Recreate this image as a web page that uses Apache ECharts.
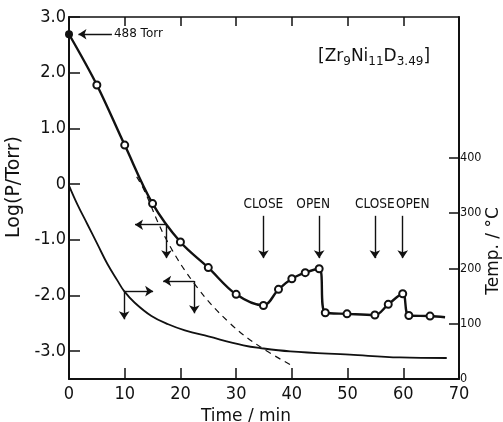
<!DOCTYPE html>
<html>
<head>
<meta charset="utf-8">
<script src="https://cdn.jsdelivr.net/npm/echarts@6/dist/echarts.min.js"></script>
<style>
  html, body { margin: 0; padding: 0; background: #fff; }
  #chart { width: 503px; height: 422px; }
</style>
</head>
<body>
<div id="chart"></div>
<script>
// pressure curve, open circles (first point = 488 Torr, last = line end)
const timeMin = [0, 5, 10, 15, 20, 25, 30, 34.9, 37.6, 40, 42.4, 44.9, 46, 49.9, 54.9, 57.3, 59.9, 61, 64.8, 67.5];
const logP = [2.69, 1.78, 0.70, -0.35, -1.04, -1.50, -1.98, -2.18, -1.89, -1.70, -1.59, -1.52, -2.31, -2.33, -2.35, -2.16, -1.97, -2.36, -2.37, -2.39];

// dashed extrapolation
const dashTime = [12.15, 13.3, 17.5, 22.9, 28.9, 34.3, 40.4];
const dashLogP = [0.13, -0.07, -1.00, -1.84, -2.50, -2.92, -3.28];

// sample temperature (right axis)
const tempTime = [0, 1.5, 3.3, 5.1, 6.9, 8.7, 9.9, 11.8, 14.8, 17.8, 20.8, 25, 31.3, 34.3, 39.7, 50.4, 59.4, 67.8];
const tempC = [350, 316, 280, 244, 208, 178, 159, 138, 114, 99, 88, 77, 61, 56, 50, 44, 39, 38];

// valve events
const valveTime = [34.9, 44.9, 54.9, 59.9];
const valveText = ["CLOSE", "OPEN", "CLOSE", "OPEN"];
const valveShift = [0, -6, 0, 10];

const logTicks = [-3, -2, -1, 0, 1, 2, 3];
const tempTicks = [0, 100, 200, 300, 400];

const INK = "#111";
const FONT = '"DejaVu Sans Condensed", "DejaVu Sans", sans-serif';
const NARROW = '"Liberation Sans Narrow", "DejaVu Sans Condensed", sans-serif';

const chart = echarts.init(document.getElementById("chart"));

const arrowLine = (x1, y1, x2, y2) => [{ coord: [x1, y1] }, { coord: [x2, y2] }];

const mainData = timeMin.map((t, i) => {
  if (i === 0) return { value: [t, logP[i]], symbol: "circle", symbolSize: 8 };
  if (i === timeMin.length - 1) return { value: [t, logP[i]], symbol: "none" };
  return [t, logP[i]];
});

const valveLines = valveTime.map((t, i) => [
  {
    coord: [t, -0.57],
    label: {
      show: true, position: "start", formatter: valveText[i], distance: 4,
      offset: [valveShift[i], 0], color: INK, fontFamily: NARROW, fontSize: 13.5,
    },
  },
  { coord: [t, -1.33] },
]);

const option = {
  animation: false,
  grid: { left: 69, right: 44, top: 17, bottom: 43, outerBoundsMode: "none" },
  xAxis: [
    {
      type: "value", min: 0, max: 70, interval: 10,
      axisLine: { onZero: false, lineStyle: { color: INK, width: 2 } },
      axisTick: { show: true, inside: true, length: 11, lineStyle: { color: INK, width: 1.5 } },
      axisLabel: { color: INK, fontFamily: FONT, fontSize: 18, margin: 6 },
      splitLine: { show: false },
      name: "Time / min", nameLocation: "middle", nameGap: 25,
      nameTextStyle: { color: INK, fontFamily: "DejaVu Sans", fontSize: 17, padding: [0, 36, 0, 0] },
    },
    {
      type: "value", position: "top", min: 0, max: 70, interval: 10,
      axisLine: { onZero: false, lineStyle: { color: INK, width: 1.5 } },
      axisTick: { show: true, inside: true, length: 9, lineStyle: { color: INK, width: 1.5 } },
      axisLabel: { show: false },
      splitLine: { show: false },
    },
  ],
  yAxis: [
    {
      type: "value", min: -3.5, max: 3,
      axisLine: { show: true, onZero: false, lineStyle: { color: INK, width: 2 } },
      axisTick: { show: true, inside: true, length: 11, customValues: logTicks, lineStyle: { color: INK, width: 1.5 } },
      axisLabel: {
        customValues: logTicks, color: INK, fontFamily: FONT, fontSize: 18, margin: 3,
        formatter: (v) => (v === 0 ? "0" : v.toFixed(1)),
      },
      splitLine: { show: false },
      name: "Log(P/Torr)", nameLocation: "middle", nameRotate: 90, nameGap: 40,
      nameTextStyle: { color: INK, fontFamily: "DejaVu Sans", fontSize: 19, padding: [0, 0, 0, 22] },
    },
    {
      type: "value", position: "right", min: 0, max: 655,
      axisLine: { show: true, onZero: false, lineStyle: { color: INK, width: 2 } },
      axisTick: { show: true, inside: true, length: 10, customValues: tempTicks, lineStyle: { color: INK, width: 1.5 } },
      axisLabel: { customValues: tempTicks, color: INK, fontFamily: FONT, fontSize: 12.5, margin: 1 },
      splitLine: { show: false },
    },
  ],
  graphic: [
    {
      type: "text", left: 318, top: 46,
      style: {
        text: "[Zr{s|9}Ni{s|11}D{s|3.49}]",
        fill: INK, fontFamily: "DejaVu Sans", fontSize: 17, lineHeight: 22,
        rich: { s: { fontSize: 12, fill: INK, fontFamily: "DejaVu Sans", verticalAlign: "bottom", lineHeight: 22 } },
      },
    },
    {
      // right axis title
      type: "text", x: 494, y: 251, rotation: Math.PI / 2,
      style: {
        text: "Temp. / °C", fill: INK, fontFamily: "DejaVu Sans", fontSize: 17,
        align: "center", verticalAlign: "middle",
      },
    },
  ],
  series: [
    {
      name: "log P", type: "line", data: mainData,
      smooth: 0.35,
      symbol: "emptyCircle", symbolSize: 7,
      lineStyle: { color: INK, width: 2.4 },
      itemStyle: { color: INK, borderWidth: 1.5 },
      z: 5,
      markLine: {
        silent: true, symbol: ["none", "arrow"], symbolSize: 8,
        lineStyle: { color: INK, width: 1.4, type: "solid" },
        label: { show: false },
        data: [
          [{ coord: [7.7, 2.69], label: { show: true, position: "start", formatter: "488 Torr", color: INK, fontSize: 12, fontFamily: "DejaVu Sans", distance: 2 } }, { coord: [1.7, 2.69] }],
          arrowLine(17.5, -0.73, 11.85, -0.73),
          arrowLine(17.5, -0.73, 17.5, -1.33),
          ...valveLines,
        ],
      },
    },
    {
      name: "extrapolated", type: "line",
      data: dashTime.map((t, i) => [t, dashLogP[i]]),
      smooth: 0.4, symbol: "none",
      lineStyle: { color: INK, width: 1.2, type: [6, 5] },
      markLine: {
        silent: true, symbol: ["none", "arrow"], symbolSize: 8,
        lineStyle: { color: INK, width: 1.4, type: "solid" },
        label: { show: false },
        data: [
          arrowLine(22.5, -1.74, 16.9, -1.74),
          arrowLine(22.5, -1.74, 22.5, -2.32),
        ],
      },
    },
    {
      name: "temperature", type: "line", yAxisIndex: 1,
      data: tempTime.map((t, i) => [t, tempC[i]]),
      smooth: 0.4, symbol: "none",
      lineStyle: { color: INK, width: 1.8 },
      markLine: {
        silent: true, symbol: ["none", "arrow"], symbolSize: 8,
        lineStyle: { color: INK, width: 1.4, type: "solid" },
        label: { show: false },
        data: [
          arrowLine(9.9, 159, 15.1, 159),
          arrowLine(9.9, 159, 9.9, 108),
        ],
      },
    },
  ],
};

chart.setOption(option);
</script>
</body>
</html>
